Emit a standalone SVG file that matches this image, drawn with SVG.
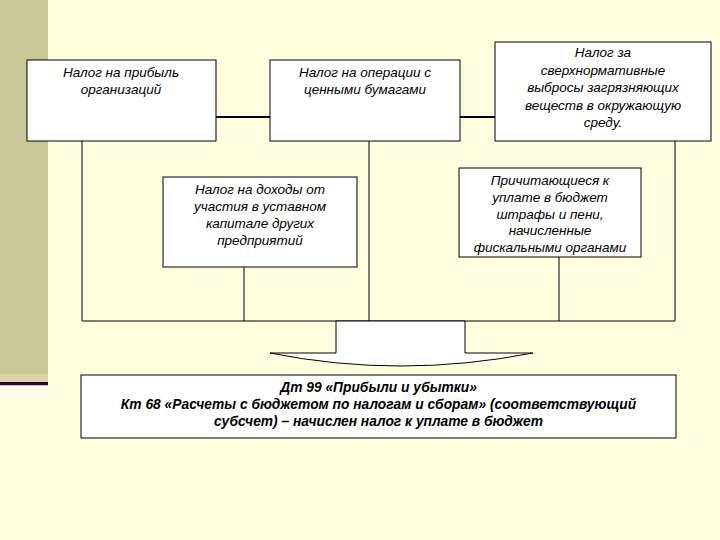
<svg xmlns="http://www.w3.org/2000/svg" width="720" height="540" viewBox="0 0 720 540">
<style>
.box{fill:#ffffff;stroke:#000000;stroke-width:1}
.t{font-family:"Liberation Sans",Arial,sans-serif;font-style:italic;font-size:13.5px;fill:#000000;text-anchor:middle}
.b{font-family:"Liberation Sans",Arial,sans-serif;font-style:italic;font-weight:bold;font-size:13.8px;fill:#000000;text-anchor:middle}
.ln{stroke:#000000;stroke-width:1;fill:none}
.thick{stroke:#000000;stroke-width:2;fill:none}
</style>
<rect x="0" y="0" width="720" height="540" fill="#ffffdf"/>
<rect x="0" y="0" width="48" height="382" fill="#c8c896"/>
<rect x="0" y="374" width="48" height="8" fill="#d6d6a4"/>
<rect x="0" y="382" width="48" height="3.5" fill="#330033"/>
<rect x="0" y="385.5" width="48" height="12" fill="#fbfbe8"/>
<g id="connectors">
<line class="thick" x1="216" y1="117" x2="270" y2="117"/>
<line class="thick" x1="460" y1="117" x2="495" y2="117"/>
<polyline class="ln" points="82,141 82,321 675,321 675,141"/>
<line class="ln" x1="244" y1="267" x2="244" y2="321"/>
<line class="ln" x1="369" y1="141" x2="369" y2="321"/>
<line class="ln" x1="559" y1="257" x2="559" y2="321"/>
<path class="box" d="M336,321 L465,321 L465,353 L533,353 Q400,379 270,353 L336,353 Z"/>
</g>
<g id="n1">
<rect class="box" x="27" y="60" width="189" height="81"/>
<text class="t" x="121" y="77">Налог на прибыль</text>
<text class="t" x="121" y="94">организаций</text>
</g>
<g id="n2">
<rect class="box" x="270" y="60" width="190" height="81"/>
<text class="t" x="365" y="77">Налог на операции с</text>
<text class="t" x="365" y="94">ценными бумагами</text>
</g>
<g id="n3">
<rect class="box" x="495" y="42" width="216" height="99"/>
<text class="t" x="603" y="57">Налог за</text>
<text class="t" x="603" y="74.5">сверхнормативные</text>
<text class="t" x="603" y="92">выбросы загрязняющих</text>
<text class="t" x="603" y="109.5">веществ в окружающую</text>
<text class="t" x="603" y="127">среду.</text>
</g>
<g id="n4">
<rect class="box" x="163" y="177" width="194" height="90"/>
<text class="t" x="260" y="194">Налог на доходы от</text>
<text class="t" x="260" y="211">участия в уставном</text>
<text class="t" x="260" y="228">капитале других</text>
<text class="t" x="260" y="245">предприятий</text>
</g>
<g id="n5">
<rect class="box" x="459" y="168" width="182" height="89"/>
<text class="t" x="550" y="185">Причитающиеся к</text>
<text class="t" x="550" y="202">уплате в бюджет</text>
<text class="t" x="550" y="218.5">штрафы и пени,</text>
<text class="t" x="550" y="235">начисленные</text>
<text class="t" x="550" y="252">фискальными органами</text>
</g>
<g id="n6">
<rect class="box" x="81" y="375" width="595" height="63"/>
<text class="b" x="378.5" y="391.5">Дт 99 «Прибыли и убытки»</text>
<text class="b" x="378.5" y="408.5">Кт 68 «Расчеты с бюджетом по налогам и сборам» (соответствующий</text>
<text class="b" x="378.5" y="425.5">субсчет) – начислен налог к уплате в бюджет</text>
</g>
</svg>
